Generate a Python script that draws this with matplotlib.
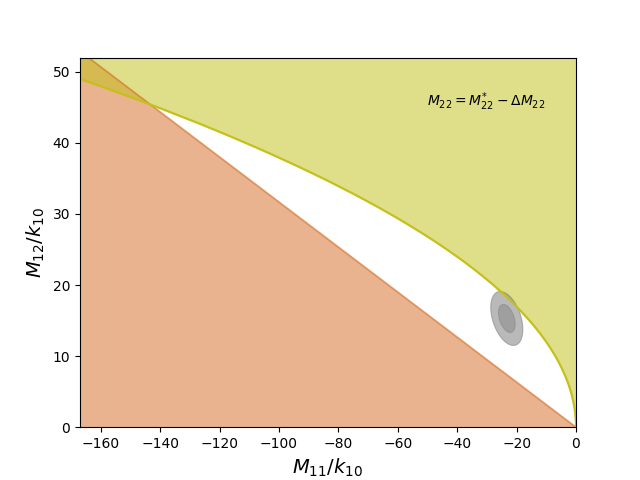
import numpy as np
import matplotlib
matplotlib.use("Agg")
import matplotlib.pyplot as plt
from matplotlib.patches import Polygon

# Upper (yellow) boundary curve
curve_x = [-167, -163, -159, -155, -151, -147, -143, -139, -135, -131, -127, -123,
           -119, -115, -111, -107, -103, -99, -95, -91, -87, -83, -79, -75, -71,
           -67, -63, -59, -55, -51, -47, -43, -40, -37, -34, -31, -28, -25, -22,
           -19, -16, -14, -12, -10, -8.5, -7, -6, -5, -4, -3.2, -2.5, -1.9, -1.4,
           -1.0, -0.7, -0.45, -0.25, -0.1, -0.03, 0]
curve_y = [49.00, 48.41, 47.82, 47.21, 46.60, 45.98, 45.35, 44.71, 44.06, 43.40, 42.74, 42.06,
           41.37, 40.67, 39.95, 39.23, 38.49, 37.73, 36.96, 36.17, 35.37, 34.55, 33.70, 32.84, 31.95,
           31.04, 30.10, 29.13, 28.12, 27.08, 26.00, 24.87, 23.98, 23.07, 22.11, 21.11, 20.07, 18.96, 17.79,
           16.53, 15.17, 14.19, 13.14, 11.99, 11.06, 10.03, 9.29, 8.48, 7.58, 6.78, 6.00, 5.23, 4.49,
           3.79, 3.17, 2.54, 1.90, 1.20, 0.66, 0.0]

# Lower (orange) boundary line
line_x = [-167, 0]
line_y = [52.9, 0.0]

# Grey confidence ellipses: centre and covariance-like shape (data units)
ell_center = (-23.3, 15.3)
ell_cov = [[29.2, -8.4], [-8.4, 14.4]]
ell_scales = [1.0, 0.52]
ell_alphas = [0.55, 0.45]

xlim = (-167, 0)
ylim = (0, 52)
xticks = [-160, -140, -120, -100, -80, -60, -40, -20, 0]
yticks = [0, 10, 20, 30, 40, 50]

fig, ax = plt.subplots(figsize=(6.4, 4.8), dpi=100)

orange = "chocolate"
olive_fill = "#c1c115"
olive_line = "#c4c01c"

ax.fill_between(line_x, 0, line_y, color=orange, alpha=0.5, lw=0)
ax.plot(line_x, line_y, color=orange, alpha=0.6, lw=1.3)

ax.fill_between(curve_x, curve_y, 60, color=olive_fill, alpha=0.5, lw=0)
ax.plot(curve_x, curve_y, color=olive_line, lw=1.6)

L = np.linalg.cholesky(np.array(ell_cov))
t = np.linspace(0, 2 * np.pi, 200)
circ = np.vstack([np.cos(t), np.sin(t)])
for s, a in zip(ell_scales, ell_alphas):
    pts = (L @ circ) * s
    pts = pts.T + np.array(ell_center)
    ax.add_patch(Polygon(pts, closed=True, facecolor="gray", edgecolor="gray",
                         alpha=a, lw=0.8))

ax.text(-50, 45.8, r"$M_{22} = M_{22}^{*} - \Delta M_{22}$", fontsize=10, va="center")

ax.set_xlim(*xlim)
ax.set_ylim(*ylim)
ax.set_xticks(xticks)
ax.set_yticks(yticks)
ax.set_xlabel(r"$M_{11}/k_{10}$", fontsize=14)
ax.set_ylabel(r"$M_{12}/k_{10}$", fontsize=14)

fig.savefig("out.png", dpi=100)
